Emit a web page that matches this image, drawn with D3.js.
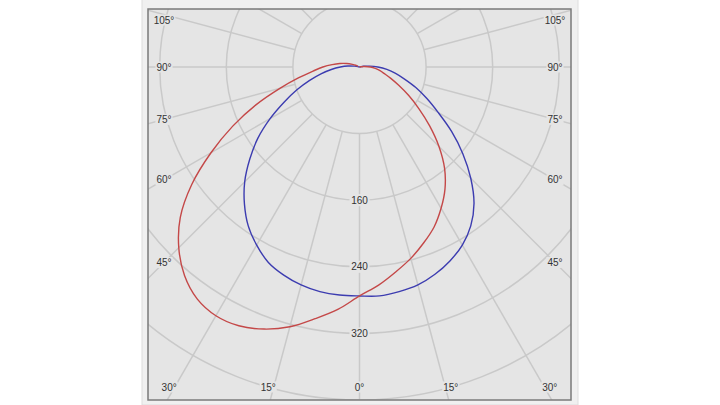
<!DOCTYPE html>
<html>
<head>
<meta charset="utf-8">
<script src="https://cdn.jsdelivr.net/npm/d3@7"></script>
<style>
  body { margin: 0; background: #fff; }
  text { font-family: "Liberation Sans", Arial, sans-serif; font-size: 10px; fill: #333; }
</style>
</head>
<body>
<div id="chart"></div>
<script>
// luminous intensity (cd) per gamma angle, 0 = straight down
var gamma = [0, 5, 10, 15, 20, 25, 30, 35, 40, 45, 50, 55, 60, 65, 70, 75, 80, 85, 90, 95, 100, 105, 110, 115, 120];
var blueLeft  = [275, 275, 274, 271, 266, 259, 247, 233, 215, 195, 172, 149, 124, 100, 80, 62, 47, 34, 23, 14, 6, 2, 0, 0, 0];
var blueRight = [275, 276, 274, 271, 265, 257, 247, 233, 214, 189, 162, 135, 109, 89, 72, 56, 44, 33, 22, 12, 5, 2, 0, 0, 0];
var redLeft   = [275, 292, 307, 323, 335, 343, 345, 340, 327, 307, 281, 246, 206, 168, 132, 99, 74, 56, 44, 33, 24, 16, 9, 5, 2];
var redRight  = [275, 263, 250, 238, 225, 212, 196, 179, 159, 135, 110, 87, 68, 52, 40, 31, 25, 19, 13, 6, 2, 0, 0, 0, 0];

var rings = [80, 160, 240, 320, 400];
var ringLabels = [160, 240, 320];
var spokes = d3.range(0, 360, 15);
var angleLabels = [0, 15, 30, 45, 60, 75, 90, 105];

var width = 720, height = 405;
var frame = {x0: 148, x1: 571, y0: 9, y1: 400};
var cx = (frame.x0 + frame.x1) / 2, cy = 67;

var svg = d3.select('#chart').append('svg')
    .attr('width', width)
    .attr('height', height);

// outer panel
svg.append('rect')
    .attr('x', 142).attr('y', -1)
    .attr('width', 436).attr('height', 406)
    .attr('fill', '#f0f0f0')
    .attr('stroke', '#dedede');

svg.append('clipPath').attr('id', 'clip')
    .append('rect')
    .attr('x', frame.x0).attr('y', frame.y0)
    .attr('width', frame.x1 - frame.x0).attr('height', frame.y1 - frame.y0);

svg.append('rect')
    .attr('x', frame.x0).attr('y', frame.y0)
    .attr('width', frame.x1 - frame.x0).attr('height', frame.y1 - frame.y0)
    .attr('fill', '#e5e5e5');

var r = d3.scaleLinear().domain([0, 400]).range([0, 333]);

var plot = svg.append('g').attr('clip-path', 'url(#clip)');
var g = plot.append('g').attr('transform', 'translate(' + cx + ',' + cy + ')');

// rings
g.selectAll('circle.ring')
    .data(rings)
    .enter()
    .append('circle')
    .attr('r', function(d) { return r(d); })
    .attr('fill', 'none')
    .attr('stroke', '#c9c9c9')
    .attr('stroke-width', 1.5);

// spokes, start at first ring
function toXY(deg, rad) {
    var a = deg * Math.PI / 180;
    return [rad * Math.sin(a), rad * Math.cos(a)];
}
g.selectAll('line.spoke')
    .data(spokes)
    .enter()
    .append('line')
    .attr('x1', function(d) { return toXY(d, r(rings[0]))[0]; })
    .attr('y1', function(d) { return toXY(d, r(rings[0]))[1]; })
    .attr('x2', function(d) { return toXY(d, 700)[0]; })
    .attr('y2', function(d) { return toXY(d, 700)[1]; })
    .attr('stroke', '#c9c9c9')
    .attr('stroke-width', 1.5);

// ring labels on the 0 line
var rl = g.selectAll('g.rlab')
    .data(ringLabels)
    .enter()
    .append('g')
    .attr('transform', function(d) { return 'translate(0,' + r(d) + ')'; });
rl.append('rect')
    .attr('x', -10).attr('y', -6)
    .attr('width', 20).attr('height', 12)
    .attr('fill', '#e5e5e5');
rl.append('text')
    .attr('text-anchor', 'middle')
    .attr('dy', '0.35em')
    .text(function(d) { return d; });

// angle labels around the frame
var sideDx = cx - 164, bottomDy = frame.y1 - 13 - cy;
var labs = [];
angleLabels.forEach(function(a) {
    var sides = a === 0 ? [1] : [-1, 1];
    sides.forEach(function(s) {
        var rad = a * Math.PI / 180, x, y, anchor;
        if (a >= 45) {
            x = cx + s * sideDx;
            y = Math.max(cy + sideDx / Math.tan(rad), frame.y0 + 11);
            anchor = 'middle';
        } else {
            y = frame.y1 - 13;
            x = cx + s * (bottomDy * Math.tan(rad) - (a === 0 ? 0 : 2));
            anchor = a === 0 ? 'middle' : (s < 0 ? 'end' : 'start');
        }
        labs.push({a: a, x: x, y: y, anchor: anchor});
    });
});
var al = svg.selectAll('g.alab')
    .data(labs)
    .enter()
    .append('g');
al.append('text')
    .attr('x', function(d) { return d.x; })
    .attr('y', function(d) { return d.y; })
    .attr('dy', '0.35em')
    .attr('text-anchor', function(d) { return d.anchor; })
    .text(function(d) { return d.a + '°'; });
// background behind labels so lines stop at the text
al.each(function() {
    var t = d3.select(this).select('text');
    var b = t.node().getBBox();
    d3.select(this).insert('rect', 'text')
        .attr('x', b.x - 1).attr('y', b.y)
        .attr('width', b.width + 2).attr('height', b.height)
        .attr('fill', '#e5e5e5');
});

// curves
function curvePoints(left, right) {
    var pts = [];
    for (var i = gamma.length - 1; i >= 0; i--) {
        pts.push({a: Math.PI + gamma[i] * Math.PI / 180, v: left[i]});
    }
    for (var j = 1; j < gamma.length; j++) {
        pts.push({a: Math.PI - gamma[j] * Math.PI / 180, v: right[j]});
    }
    return pts;
}
var line = d3.lineRadial()
    .angle(function(d) { return d.a; })
    .radius(function(d) { return r(d.v); })
    .curve(d3.curveCatmullRom.alpha(0.5));

g.append('path')
    .attr('d', line(curvePoints(blueLeft, blueRight)))
    .attr('fill', 'none')
    .attr('stroke', '#3c3cb0')
    .attr('stroke-width', 1.4);

g.append('path')
    .attr('d', line(curvePoints(redLeft, redRight)))
    .attr('fill', 'none')
    .attr('stroke', '#c44848')
    .attr('stroke-width', 1.4);

// frame border
svg.append('rect')
    .attr('x', frame.x0).attr('y', frame.y0)
    .attr('width', frame.x1 - frame.x0).attr('height', frame.y1 - frame.y0)
    .attr('fill', 'none')
    .attr('stroke', '#7a7a7a')
    .attr('stroke-width', 1.5);
</script>
</body>
</html>
